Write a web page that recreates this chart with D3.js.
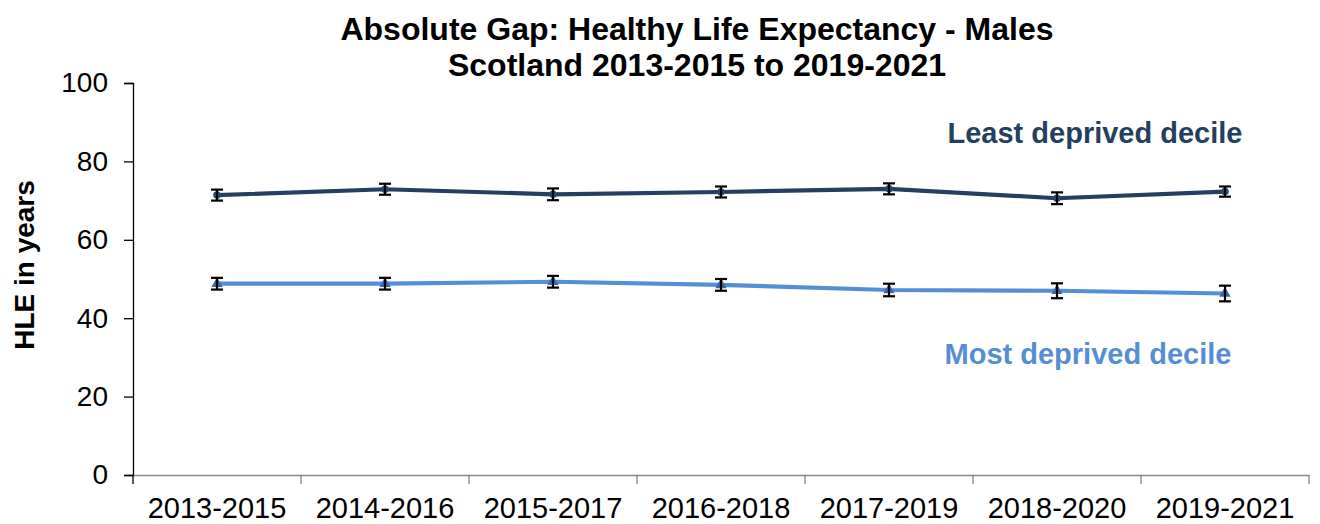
<!DOCTYPE html>
<html>
<head>
<meta charset="utf-8">
<script src="https://cdn.jsdelivr.net/npm/d3@7"></script>
<style>
  html, body { margin: 0; padding: 0; background: #ffffff; }
  svg { display: block; font-family: "Liberation Sans", Arial, sans-serif; }
</style>
</head>
<body>
<svg id="chart" width="1320" height="524"></svg>
<script>
const categories = ["2013-2015", "2014-2016", "2015-2017", "2016-2018", "2017-2019", "2018-2020", "2019-2021"];
const leastDeprived = [71.4, 72.9, 71.6, 72.2, 73.0, 70.6, 72.3];
const leastDeprivedCI = [1.4, 1.4, 1.5, 1.4, 1.4, 1.5, 1.3];
const mostDeprived = [48.8, 48.8, 49.3, 48.5, 47.2, 47.0, 46.3];
const mostDeprivedCI = [1.5, 1.5, 1.5, 1.5, 1.6, 1.9, 2.0];
const yTicks = [0, 20, 40, 60, 80, 100];
const titleLines = ["Absolute Gap: Healthy Life Expectancy - Males", "Scotland 2013-2015 to 2019-2021"];
const yTitle = "HLE in years";
const seriesNames = ["Least deprived decile", "Most deprived decile"];

const svg = d3.select("#chart");
const m = { left: 133, right: 1309, top: 83, bottom: 475 };

const x = d3.scaleBand().domain(categories).range([m.left, m.right]);
const y = d3.scaleLinear().domain([0, 100]).range([m.bottom, m.top]);

// Title
svg.append("g").selectAll("text").data(titleLines).join("text")
  .attr("x", 697).attr("y", (d, i) => 40 + i * 36)
  .attr("text-anchor", "middle")
  .attr("font-size", 32).attr("font-weight", "bold").attr("fill", "#000")
  .text(d => d);

// Y axis
const yAxis = svg.append("g").attr("transform", `translate(${m.left},0)`)
  .call(d3.axisLeft(y).tickValues(yTicks).tickSize(9).tickPadding(16).tickFormat(d3.format("d")));
yAxis.select(".domain").attr("stroke", "#000").attr("stroke-width", 1.3);
yAxis.selectAll(".tick line").attr("stroke", "#000").attr("stroke-width", 1.3);
yAxis.selectAll(".tick text").attr("font-size", 28).attr("fill", "#000")
  .attr("font-family", "Liberation Sans, Arial, sans-serif");

// X axis
const xAxis = svg.append("g").attr("transform", `translate(0,${m.bottom})`)
  .call(d3.axisBottom(x).tickSize(0).tickPadding(22));
xAxis.select(".domain").attr("stroke", "#868686").attr("stroke-width", 1.5);
xAxis.selectAll(".tick text").attr("font-size", 29).attr("fill", "#000")
  .attr("font-family", "Liberation Sans, Arial, sans-serif");
// boundary ticks between categories
const bounds = categories.map(c => x(c)).concat([x(categories[categories.length - 1]) + x.bandwidth()]);
svg.append("g").selectAll("line").data(bounds).join("line")
  .attr("x1", d => d).attr("x2", d => d)
  .attr("y1", m.bottom).attr("y2", m.bottom + 9)
  .attr("stroke", d => d === m.left ? "#000" : "#868686").attr("stroke-width", 1.3);

// Y axis title
svg.append("text")
  .attr("transform", `translate(34,265) rotate(-90)`)
  .attr("text-anchor", "middle")
  .attr("font-size", 28).attr("font-weight", "bold").attr("fill", "#000")
  .text(yTitle);

const cx = c => x(c) + x.bandwidth() / 2;

function drawSeries(vals, ci, color, markerColor, symbol, symSize) {
  const data = categories.map((c, i) => ({ c, v: vals[i], e: ci[i] }));
  svg.append("path").datum(data)
    .attr("fill", "none").attr("stroke", color).attr("stroke-width", 4.2)
    .attr("stroke-linejoin", "round")
    .attr("d", d3.line().x(d => cx(d.c)).y(d => y(d.v)));
  svg.append("g").selectAll("path").data(data).join("path")
    .attr("transform", d => `translate(${cx(d.c)},${y(d.v)})`)
    .attr("d", d3.symbol().type(symbol).size(symSize))
    .attr("fill", markerColor);
  const eb = svg.append("g").attr("stroke", "#000").attr("stroke-width", 2.2);
  eb.selectAll("line.v").data(data).join("line").attr("class", "v")
    .attr("x1", d => cx(d.c)).attr("x2", d => cx(d.c))
    .attr("y1", d => y(d.v - d.e)).attr("y2", d => y(d.v + d.e));
  eb.selectAll("line.t").data(data).join("line").attr("class", "t")
    .attr("x1", d => cx(d.c) - 6).attr("x2", d => cx(d.c) + 6)
    .attr("y1", d => y(d.v + d.e)).attr("y2", d => y(d.v + d.e));
  eb.selectAll("line.b").data(data).join("line").attr("class", "b")
    .attr("x1", d => cx(d.c) - 6).attr("x2", d => cx(d.c) + 6)
    .attr("y1", d => y(d.v - d.e)).attr("y2", d => y(d.v - d.e));
}

drawSeries(leastDeprived, leastDeprivedCI, "#243f60", "#2a4a72", d3.symbolCircle, 45);
drawSeries(mostDeprived, mostDeprivedCI, "#558ed5", "#3a6aae", d3.symbolTriangle, 55);

// Series labels
svg.append("text").attr("x", 1095).attr("y", 143).attr("text-anchor", "middle")
  .attr("font-size", 29).attr("font-weight", "bold").attr("fill", "#243f60")
  .text(seriesNames[0]);
svg.append("text").attr("x", 1088).attr("y", 364).attr("text-anchor", "middle")
  .attr("font-size", 29).attr("font-weight", "bold").attr("fill", "#558ed5")
  .text(seriesNames[1]);
</script>
</body>
</html>
